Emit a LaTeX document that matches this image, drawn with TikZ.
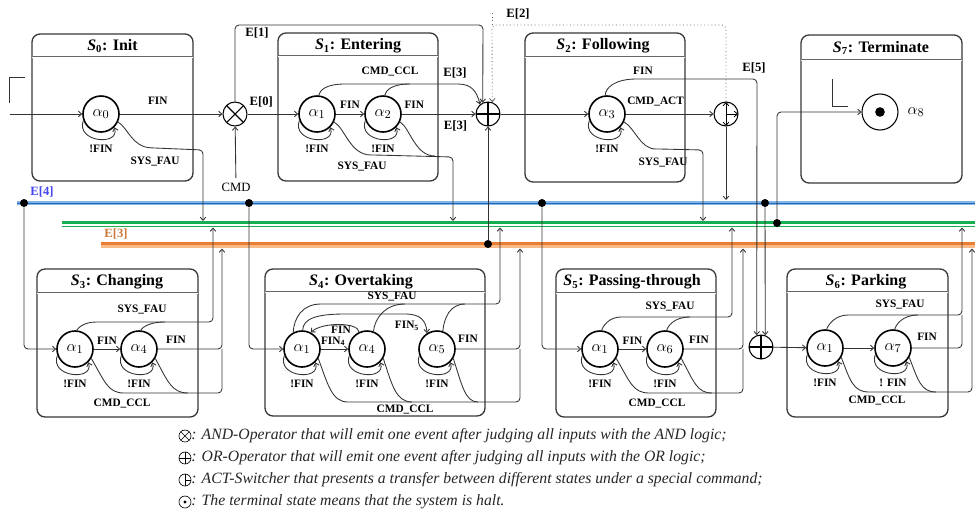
\documentclass[tikz,border=0pt]{standalone}
\usepackage{fontspec}
\setmainfont{Liberation Serif}
\usetikzlibrary{arrows.meta}
\definecolor{busblue}{RGB}{35,105,195}
\definecolor{buslblue}{RGB}{130,180,228}
\definecolor{busgreen}{RGB}{20,175,80}
\definecolor{busorange}{RGB}{235,125,50}
\definecolor{buslorange}{RGB}{246,185,135}
\definecolor{evblue}{RGB}{70,70,240}
\definecolor{evorange}{RGB}{205,120,60}
\begin{document}
\begin{tikzpicture}[x=0.75pt, y=0.75pt, >={Straight Barb[length=2.4pt,width=4.2pt]},
  st/.style={circle, draw, line width=1.2pt, minimum size=27pt, inner sep=0pt, font=\fontsize{13}{14}\selectfont},
  lb/.style={font=\bfseries\fontsize{8.5}{9}\selectfont, inner sep=0pt},
  ev/.style={font=\bfseries\fontsize{9.5}{10}\selectfont, inner sep=0pt},
  ttl/.style={font=\bfseries\fontsize{12}{13}\selectfont, inner sep=0pt},
  stbox/.style={draw=black!78, line width=1pt, rounded corners=6pt},
  titlesep/.style={draw=black!60, double, double distance=0.6pt, line width=0.45pt},
  ln/.style={draw=black!80, line width=0.65pt},
  fl/.style={ln, ->},
  gate/.style={circle, draw, line width=0.8pt, minimum size=18pt, inner sep=0pt},
  andgate/.style={gate, path picture={\draw (path picture bounding box.north west) -- (path picture bounding box.south east) (path picture bounding box.north east) -- (path picture bounding box.south west);}},
  orgate/.style={gate, path picture={\draw (path picture bounding box.north) -- (path picture bounding box.south) (path picture bounding box.west) -- (path picture bounding box.east);}},
  actgate/.style={gate, path picture={\draw[<->, line width=0.6pt] (path picture bounding box.north) -- (path picture bounding box.south); \draw[->, line width=0.6pt] (path picture bounding box.center) -- (path picture bounding box.east);}},
  actmark/.style={gate, path picture={\draw (path picture bounding box.north) -- (path picture bounding box.south) (path picture bounding box.center) -- (path picture bounding box.east);}},
  jdot/.style={circle, fill, inner sep=0pt, minimum size=6pt},
  leg/.style={font=\itshape\fontsize{11.8}{13}\selectfont, text=black!85, anchor=west, inner sep=0pt}]
\useasboundingbox (0, 0) rectangle (975, -515);

% state frames
\draw[stbox] (32, -34) rectangle (193, -181);
\draw[titlesep] (32, -57) -- (193, -57);
\node[ttl] at (112.5, -46) {\textit{S}\textsubscript{0}: Init};
\draw[stbox] (278, -33) rectangle (438, -181);
\draw[titlesep] (278, -56) -- (438, -56);
\node[ttl] at (358, -46) {\textit{S}\textsubscript{1}: Entering};
\draw[stbox] (525, -33) rectangle (685, -182);
\draw[titlesep] (525, -57) -- (685, -57);
\node[ttl] at (603, -46) {\textit{S}\textsubscript{2}: Following};
\draw[stbox] (801, -35) rectangle (962, -183);
\draw[titlesep] (801, -60) -- (962, -60);
\node[ttl] at (881, -48) {\textit{S}\textsubscript{7}: Terminate};
\draw[stbox] (37, -269) rectangle (198, -417);
\draw[titlesep] (37, -293) -- (198, -293);
\node[ttl] at (117, -282) {\textit{S}\textsubscript{3}: Changing};
\draw[stbox] (265, -269) rectangle (485, -416);
\draw[titlesep] (265, -292) -- (485, -292);
\node[ttl] at (361, -282) {\textit{S}\textsubscript{4}: Overtaking};
\draw[stbox] (556, -269) rectangle (716, -417);
\draw[titlesep] (556, -293) -- (716, -293);
\node[ttl] at (632, -282) {\textit{S}\textsubscript{5}: Passing-through};
\draw[stbox] (787, -269) rectangle (948, -417);
\draw[titlesep] (787, -292) -- (948, -292);
\node[ttl] at (866, -282) {\textit{S}\textsubscript{6}: Parking};

% event buses
\draw[buslblue, line width=3.5pt] (17, -203) -- (975, -203);
\draw[busblue, line width=1pt] (17, -203.5) -- (975, -203.5);
\draw[busgreen, line width=1.6pt] (62, -222.5) -- (975, -222.5);
\draw[busgreen, line width=0.8pt] (62, -226.5) -- (975, -226.5);
\draw[busorange, line width=1.6pt] (101, -243.5) -- (975, -243.5);
\draw[buslorange, line width=1.6pt] (101, -246.5) -- (975, -246.5);
\node[ev, text=evblue] at (42, -192) {E[4]};
\node[ev, text=evorange] at (116, -234) {E[3]};

\node[st](a0) at (101, -114) {$\alpha_0$};
\node[andgate](andop) at (235, -114) {};
\node[st](a1) at (317, -114) {$\alpha_1$};
\node[st](a2) at (383, -114) {$\alpha_2$};
\node[orgate](orop) at (488, -114) {};
\node[st](a3) at (607, -114) {$\alpha_3$};
\node[actgate](sw) at (726, -114) {};
\node[st, line width=0.8pt](a8) at (880, -112) {};
\fill (a8) circle (3.6pt);
\node[font=\fontsize{13}{14}\selectfont] at (916, -112) {$\alpha_8$};
\node[st](c1) at (75, -349) {$\alpha_1$};
\node[st](c4) at (139, -349) {$\alpha_4$};
\node[st](o1) at (302, -349) {$\alpha_1$};
\node[st](o4) at (367, -349) {$\alpha_4$};
\node[st](o5) at (437, -349) {$\alpha_5$};
\node[st](t1) at (600, -349) {$\alpha_1$};
\node[st](t6) at (665, -349) {$\alpha_6$};
\node[orgate](orop2) at (761, -347) {};
\node[st](k1) at (825, -348) {$\alpha_1$};
\node[st](k7) at (893, -348) {$\alpha_7$};

\node[jdot](d1) at (24, -203) {};
\node[jdot](d2) at (249, -203) {};
\node[jdot](d3) at (488, -244) {};
\node[jdot](d4) at (542, -203) {};
\node[jdot](d5) at (765, -203) {};
\node[jdot](d6) at (777, -223) {};
\node[font=\fontsize{9.5}{10}\selectfont](cmd) at (236, -187) {CMD};
\coordinate(in) at (10, -114);

\foreach \n in {a0, a1, a2, a3, c1, c4, o1, o4, o5, t1, t6, k1, k7}
  \draw[fl] (\n.200) .. controls +(-8, -22) and +(6, -19) .. (\n.-45);
\foreach \n/\lab in {a0/!FIN, a1/!FIN, a2/!FIN, a3/!FIN, c1/!FIN, c4/!FIN, o1/!FIN, o4/!FIN, o5/!FIN, t1/!FIN, t6/!FIN, k1/!FIN, k7/! FIN}
  \node[lb] at ([yshift=-26.5pt]\n.center) {\lab};

% S0
\draw[ln] (9, -103) -- (9, -77) -- (25, -77);
\draw[fl] (in) -- (a0);
\path[fl] (a0) edge node[lb, above=7pt, pos=0.37]{FIN} (andop);
\draw[fl, rounded corners=3pt] (a0.-25) .. controls (128, -128) and (132, -147) .. (155, -148) -- (203, -150) -- (203, -221);
\node[lb] at (155, -162) {SYS\_FAU};
\draw[fl] (cmd) -- (andop);

% S1
\path[fl] (andop) edge node[ev, above=5pt, pos=0.27]{E[0]} (a1);
\path[fl] (a1) edge node[lb, above=3.5pt]{FIN} (a2);
\path[fl] (a2) edge node[lb, above=3.5pt, pos=0.17]{FIN} node[ev, below=5pt, pos=0.73]{E[3]} (orop);
\draw[fl] (a1.85) .. controls (320, -90) and (326, -84) .. (345, -84) -- (458, -84) .. controls (472, -84) and (477, -92) .. (orop.130);
\draw[ln] (a2.85) .. controls (386, -90) and (392, -84) .. (410, -84);
\node[lb] at (390, -72) {CMD\_CCL};
\node[ev] at (455, -73) {E[3]};
\draw[fl, rounded corners=3pt] (andop) -- (235, -25) -- (483, -25) -- (orop.115);
\node[ev] at (257, -33) {E[1]};
\draw[fl, rounded corners=3pt] (a1.-25) .. controls (345, -128) and (350, -155) .. (375, -155) -- (453, -157) -- (453, -221);
\draw[ln] (a2.-25) .. controls (410, -128) and (415, -156) .. (435, -156);
\node[lb] at (362, -167) {SYS\_FAU};

% S2
\path[fl] (orop) edge (a3);
\path[fl] (a3) edge node[lb, above=5.5pt, pos=0.34]{CMD\_ACT} (sw);
\draw[fl, dotted, draw=black!60, rounded corners=3pt] (sw) -- (726, -25) -- (492, -25) -- (orop.70);
\draw[ln, dotted, draw=black!60] (492, -13) -- (492, -25);
\node[ev] at (518, -14) {E[2]};
\draw[fl, rounded corners=3pt] (a3.95) .. controls (605, -88) and (615, -79) .. (640, -79) -- (757, -79) -- (orop2.110);
\node[lb] at (643, -71) {FIN};
\node[ev] at (754, -68) {E[5]};
\draw[fl, rounded corners=3pt] (a3.-25) .. controls (635, -128) and (640, -149) .. (660, -149) -- (703, -150) -- (703, -221);
\node[lb] at (663, -163) {SYS\_FAU};
\draw[fl] (sw) -- (726, -200);

% S7
\draw[ln] (832, -79) -- (832, -106) -- (848, -106);
\draw[fl, rounded corners=3pt] (d6) |- (a8);

% S3
\draw[fl, rounded corners=3pt] (d1) |- (c1);
\path[fl] (c1) edge node[lb, above=3pt]{FIN} (c4);
\draw[fl, rounded corners=3pt] (c4) -- (222, -349) -- (222, -248.5);
\node[lb] at (176, -340) {FIN};
\draw[fl, rounded corners=3pt] (c1.85) .. controls (78, -328) and (84, -322) .. (100, -322) -- (213, -322) -- (213, -227.5);
\draw[ln] (c4.85) .. controls (142, -328) and (148, -322) .. (165, -322);
\node[lb] at (142, -310) {SYS\_FAU};
\draw[ln, rounded corners=3pt] (c1.-30) .. controls (105, -382) and (108, -393) .. (128, -393) -- (222, -393) -- (222, -349);
\draw[ln] (c4.-30) .. controls (168, -382) and (172, -393) .. (188, -393);
\node[lb] at (122, -404) {CMD\_CCL};

% S4
\draw[fl, rounded corners=3pt] (d2) |- (o1);
\path[fl] (o1) edge node[lb, above=2pt, pos=0.45]{FIN\textsubscript{4}} (o4);
\draw[fl] (o4.115) .. controls (358, -322) and (322, -322) .. (o1.62);
\node[lb] at (341, -330) {FIN};
\draw[fl] (o1.88) .. controls (303, -318) and (318, -314) .. (345, -314) -- (405, -314) .. controls (420, -314) and (426, -320) .. (o5.122);
\node[lb] at (407, -326) {FIN\textsubscript{5}};
\draw[fl, rounded corners=3pt] (o1.118) .. controls (294, -318) and (302, -304) .. (325, -304) -- (500, -304) -- (500, -227.5);
\draw[ln] (o4.70) .. controls (375, -318) and (385, -304) .. (405, -304);
\draw[ln] (o5.72) .. controls (444, -318) and (450, -304) .. (465, -304);
\node[lb] at (392, -297) {SYS\_FAU};
\draw[fl, rounded corners=3pt] (o5) -- (520, -349) -- (520, -248.5);
\node[lb] at (468, -339) {FIN};
\draw[ln, rounded corners=3pt] (o1.-30) .. controls (328, -385) and (332, -402) .. (352, -402) -- (520, -402) -- (520, -349);
\draw[ln] (o4.-30) .. controls (392, -385) and (396, -402) .. (412, -402);
\draw[ln] (o5.-30) .. controls (462, -385) and (465, -402) .. (478, -402);
\node[lb] at (405, -410) {CMD\_CCL};
\draw[fl] (d3) -- (orop);

% S5
\draw[fl, rounded corners=3pt] (d4) |- (t1);
\path[fl] (t1) edge node[lb, above=3pt]{FIN} (t6);
\draw[fl, rounded corners=3pt] (t6) -- (743, -349) -- (743, -248.5);
\node[lb] at (699, -340) {FIN};
\draw[fl, rounded corners=3pt] (t1.85) .. controls (603, -326) and (609, -317) .. (625, -317) -- (732, -317) -- (732, -227.5);
\draw[ln] (t6.85) .. controls (668, -326) and (674, -317) .. (690, -317);
\node[lb] at (670, -307) {SYS\_FAU};
\draw[ln, rounded corners=3pt] (t1.-30) .. controls (630, -382) and (633, -393) .. (653, -393) -- (743, -393) -- (743, -349);
\draw[ln] (t6.-30) .. controls (694, -382) and (697, -393) .. (712, -393);
\node[lb] at (657, -404) {CMD\_CCL};

% S6
\draw[fl] (d5) -- (orop2.70);
\path[fl] (orop2) edge (k1);
\path[fl] (k1) edge (k7);
\draw[fl, rounded corners=3pt] (k1.85) .. controls (828, -325) and (835, -315) .. (852, -315) -- (962, -315) -- (962, -227.5);
\draw[ln] (k7.85) .. controls (896, -325) and (902, -315) .. (918, -315);
\draw[ln, rounded corners=3pt] (k7) -- (962, -348) -- (962, -315);
\node[lb] at (900, -305) {SYS\_FAU};
\node[lb] at (927, -337) {FIN};
\draw[fl, rounded corners=3pt] (k1.-30) .. controls (850, -380) and (853, -392) .. (873, -392) -- (972, -392) -- (972, -248.5);
\draw[ln] (k7.-30) .. controls (918, -380) and (921, -392) .. (936, -392);
\node[lb] at (877, -401) {CMD\_CCL};

% legend
\node[andgate, minimum size=9pt, line width=0.5pt](l1) at (185, -436) {};
\node[leg] at (191, -436) {: AND-Operator that will emit one event after judging all inputs with the AND logic;};
\node[orgate, minimum size=9pt, line width=0.5pt](l2) at (185, -458) {};
\node[leg] at (191, -458) {: OR-Operator that will emit one event after judging all inputs with the OR logic;};
\node[actmark, minimum size=9pt, line width=0.5pt](l3) at (185, -480) {};
\node[leg] at (191, -480) {: ACT-Switcher that presents a transfer between different states under a special command;};
\node[gate, minimum size=9pt, line width=0.5pt](l4) at (185, -502) {};
\fill (l4) circle (1.3pt);
\node[leg] at (191, -502) {: The terminal state means that the system is halt.};
\end{tikzpicture}
\end{document}
